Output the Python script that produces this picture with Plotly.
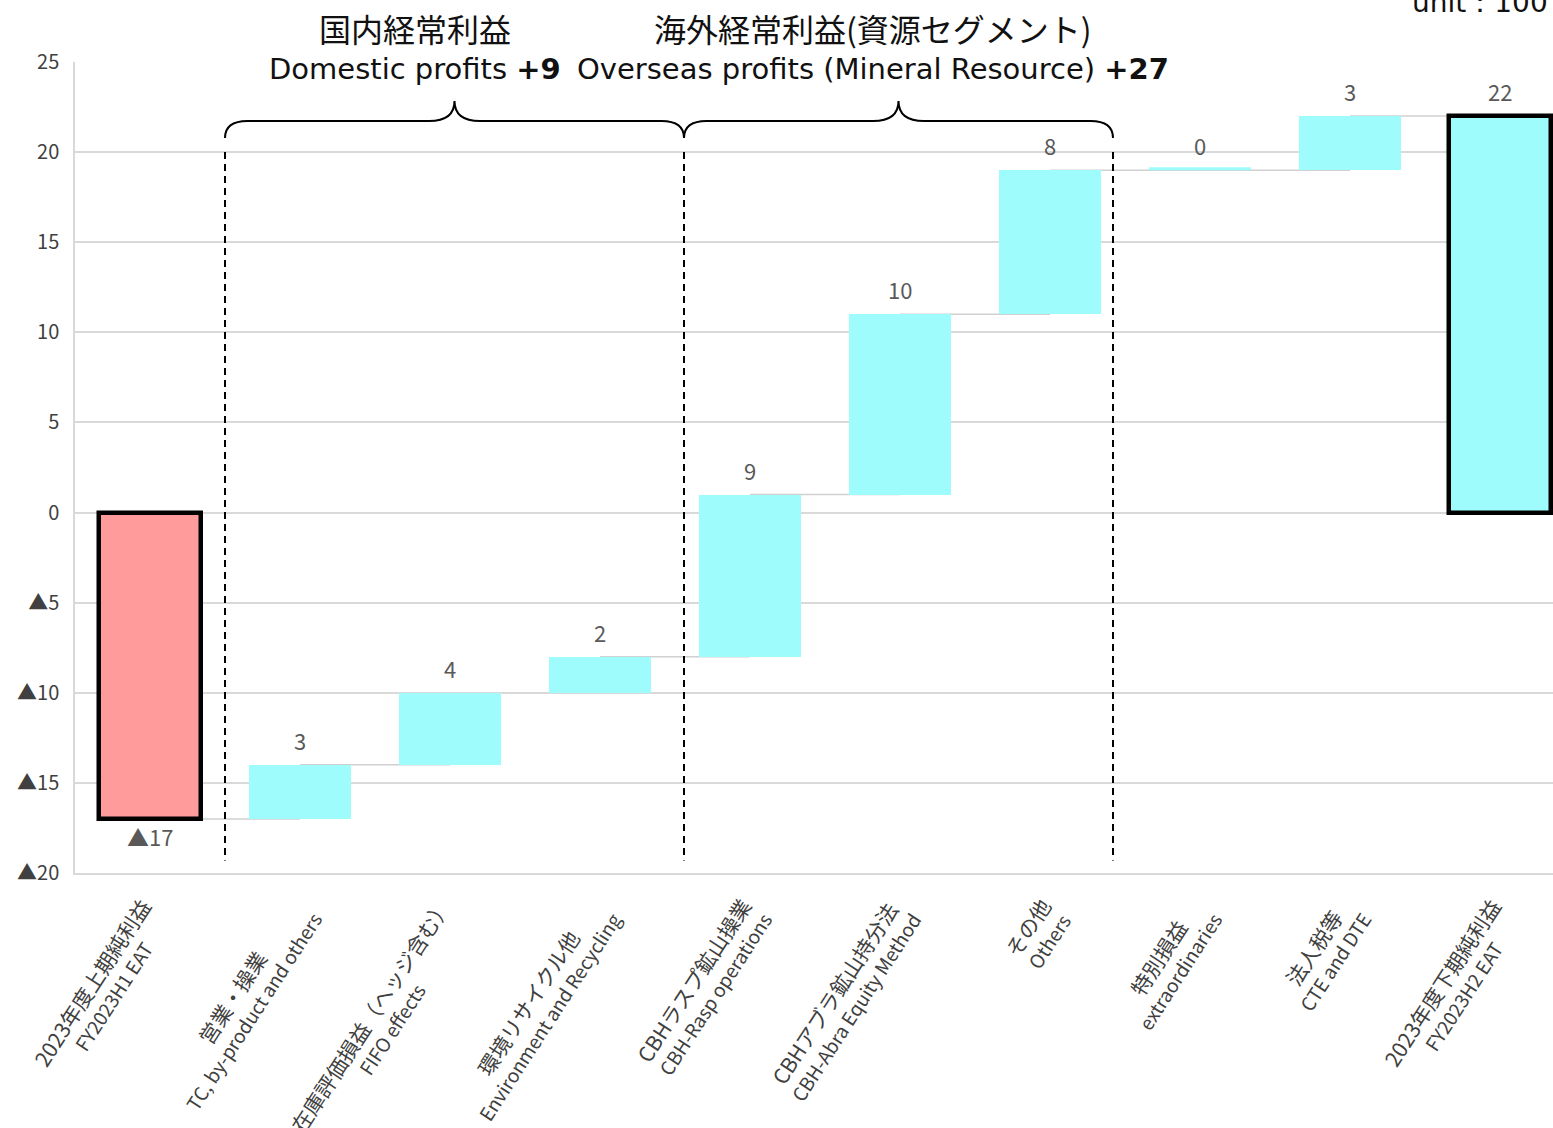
import plotly.graph_objects as go

# ---- data -------------------------------------------------------------
labels_jp = ["2023年度上期純利益", "営業・操業", "在庫評価損益（ヘッジ含む）", "環境リサイクル他",
             "CBHラスプ鉱山操業", "CBHアブラ鉱山持分法", "その他", "特別損益", "法人税等",
             "2023年度下期純利益"]
labels_en = ["FY2023H1 EAT", "TC, by-product and others", "FIFO effects", "Environment and Recycling",
             "CBH-Rasp operations", "CBH-Abra Equity Method", "Others", "extraordinaries",
             "CTE and DTE", "FY2023H2 EAT"]
measures = ["absolute", "relative", "relative", "relative", "relative", "relative",
            "relative", "relative", "relative", "total"]
values = [-17, 3, 4, 2, 9, 10, 8, 0, 3, 22]

y_tickvals = [25, 20, 15, 10, 5, 0, -5, -10, -15, -20]
y_ticktext = ["25", "20", "15", "10", "5", "0", "▲5", "▲10", "▲15", "▲20"]

group_jp = ["国内経常利益", "海外経常利益(資源セグメント)"]
group_en = ["Domestic profits", "Overseas profits (Mineral Resource)"]
group_total = ["+9", "+27"]

# ---- layout constants --------------------------------------------------
W, H = 1553, 1128
ML, MT, MB = 75, 62, 255
PW, PH = W - ML, H - MT - MB
BAR_W = 0.68
PINK = "#ff9b9b"
CYAN = "#9ffcfc"
GRID = "#d9d9d9"


def yp(py):
    """pixel row -> paper y"""
    return (H - MB - py) / PH


def fmt(v):
    return "▲" + str(abs(v)) if v < 0 else str(v)


# waterfall geometry from the values
bases, heights, ends = [], [], []
running = 0
for m, v in zip(measures, values):
    if m in ("absolute", "total"):
        b, h = 0, v
        running = v
    else:
        b, h = running, v
        running += v
    bases.append(b)
    heights.append(h)
    ends.append(running)

n = len(values)
xs = list(range(n))
colors = [PINK if m == "absolute" else CYAN for m in measures]
line_w = [4.5 if m in ("absolute", "total") else 0 for m in measures]

fig = go.Figure()
fig.add_trace(go.Bar(
    x=xs, y=heights, base=bases, width=BAR_W,
    marker=dict(color=colors, line=dict(color="black", width=line_w)),
    hoverinfo="skip", showlegend=False,
))

shapes = []
# connectors between consecutive bars
for i in range(n - 1):
    shapes.append(dict(type="line", xref="x", yref="y", layer="below",
                       x0=i, x1=i + 1, y0=ends[i], y1=ends[i],
                       line=dict(color="#d0d0d0", width=1.5)))
# zero-change steps shown as a thin strip
for i, v in enumerate(values):
    if v == 0 and measures[i] == "relative":
        shapes.append(dict(type="line", xref="x", yref="y",
                           x0=i - BAR_W / 2, x1=i + BAR_W / 2, y0=bases[i] + 0.08, y1=bases[i] + 0.08,
                           line=dict(color=CYAN, width=3)))

# dashed group separators
sep_x = [0.5, 3.56, 6.42]
for sx in sep_x:
    shapes.append(dict(type="line", xref="x", yref="y", x0=sx, x1=sx, y0=20, y1=-19.3,
                       line=dict(color="black", width=2, dash="7px,5px")))

# curly braces above each group
yE, yL, yP = yp(138), yp(121), yp(101)
r, r2 = 0.15, 0.17
for x0, x1 in [(sep_x[0], sep_x[1]), (sep_x[1], sep_x[2])]:
    xm = (x0 + x1) / 2
    path = (f"M {x0},{yE} Q {x0},{yL} {x0 + r},{yL} L {xm - r2},{yL} "
            f"Q {xm},{yL} {xm},{yP} Q {xm},{yL} {xm + r2},{yL} "
            f"L {x1 - r},{yL} Q {x1},{yL} {x1},{yE}")
    shapes.append(dict(type="path", xref="x", yref="paper", path=path,
                       line=dict(color="black", width=2)))

annotations = []
# value labels
for i, (b, h, v) in enumerate(zip(bases, heights, values)):
    top, bot = max(b, b + h), min(b, b + h)
    if v < 0:
        annotations.append(dict(x=i, y=bot, xref="x", yref="y", text=fmt(v), showarrow=False,
                                yanchor="top", yshift=1,
                                font=dict(size=22, color="#595959", family="Noto Sans CJK JP")))
    else:
        annotations.append(dict(x=i, y=top, xref="x", yref="y", text=fmt(v), showarrow=False,
                                yanchor="bottom", yshift=7,
                                font=dict(size=22, color="#595959", family="Noto Sans CJK JP")))

# rotated two-line category labels
for i, (jp, en) in enumerate(zip(labels_jp, labels_en)):
    annotations.append(dict(
        x=i + 0.2, y=yp(890), xref="x", yref="paper",
        text=f"<span style='font-size:21px'>{jp}</span><br>{en}",
        showarrow=False, textangle=-57, xanchor="right", yanchor="top", align="center",
        font=dict(size=19, color="#404040", family="Noto Sans CJK JP"),
    ))

# group headings
group_cx = [415, 873]
for cx, jp, en, tot in zip(group_cx, group_jp, group_en, group_total):
    xpap = (cx - ML) / PW
    annotations.append(dict(x=xpap, y=yp(28), xref="paper", yref="paper", text=jp,
                            showarrow=False, xanchor="center", yanchor="middle",
                            font=dict(size=32, color="#111111", family="Noto Sans CJK JP")))
    annotations.append(dict(x=xpap, y=yp(69), xref="paper", yref="paper",
                            text=f"{en} <b>{tot}</b>",
                            showarrow=False, xanchor="center", yanchor="middle",
                            font=dict(size=29, color="#111111", family="DejaVu Sans")))

# unit note in the top-right corner
annotations.append(dict(x=(1410 - ML) / PW, y=yp(3), xref="paper", yref="paper",
                        text="unit：100 million yen", showarrow=False,
                        xanchor="left", yanchor="middle",
                        font=dict(size=28, color="#111111", family="DejaVu Sans")))

fig.update_layout(
    width=W, height=H,
    margin=dict(l=ML, r=0, t=MT, b=MB, pad=0),
    paper_bgcolor="white", plot_bgcolor="white",
    shapes=shapes, annotations=annotations,
    bargap=0,
    xaxis=dict(range=[-0.5, -0.5 + PW / 150], showticklabels=False, showgrid=False,
               zeroline=False, showline=True, linecolor=GRID, linewidth=1.5, ticks="",
               fixedrange=True),
    yaxis=dict(range=[-20, 25], tickvals=y_tickvals, ticktext=y_ticktext,
               showgrid=True, gridcolor=GRID, gridwidth=1.5, zeroline=False,
               showline=True, linecolor=GRID, linewidth=1.5, ticks="",
               ticklabelstandoff=10,
               tickfont=dict(size=20, color="#404040", family="Noto Sans CJK JP"),
               fixedrange=True),
)

fig.write_html("out.html", config={"displayModeBar": False})
